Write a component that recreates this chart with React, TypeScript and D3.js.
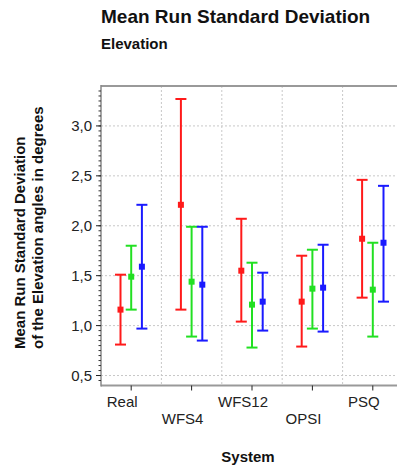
import React from "react";
import * as d3 from "d3";

const categories = ["Real", "WFS4", "WFS12", "OPSI", "PSQ"];
const seriesNames = ["A", "B", "C"];
const seriesColors = ["#ff1a1a", "#22e022", "#1a1aff"];
// [lower, mean, upper] per category per series
const redValues = [
  [0.81, 1.16, 1.51],
  [1.16, 2.21, 3.27],
  [1.04, 1.55, 2.07],
  [0.79, 1.24, 1.70],
  [1.28, 1.87, 2.46],
];
const greenValues = [
  [1.16, 1.49, 1.80],
  [0.89, 1.44, 1.99],
  [0.78, 1.21, 1.63],
  [0.97, 1.37, 1.76],
  [0.89, 1.36, 1.83],
];
const blueValues = [
  [0.97, 1.59, 2.21],
  [0.85, 1.41, 1.99],
  [0.95, 1.24, 1.53],
  [0.94, 1.38, 1.81],
  [1.24, 1.83, 2.40],
];
const yTicks = [0.5, 1.0, 1.5, 2.0, 2.5, 3.0];
const yDomain = [0.4, 3.4];

const W = 397;
const H = 466;
const left = 101;
const right = 403;
const top = 86;
const bottom = 385.5;

export default function App() {
  const x = d3.scaleBand<string>().domain(categories).range([left, right]).padding(0);
  const y = d3.scaleLinear().domain(yDomain).range([bottom, top]);
  const sub = d3.scalePoint<string>().domain(seriesNames).range([-10.7, 10.7]);
  const all = [redValues, greenValues, blueValues];
  const minor = d3.range(0.45, 3.4, 0.05).map((v) => Math.round(v * 100) / 100);
  const fmt = (v: number) => d3.format(".1f")(v).replace(".", ",");
  const font = "'Liberation Sans', Arial, sans-serif";
  const cx = (c: string) => (x(c) as number) + x.bandwidth() / 2;
  const capW = 5.5;

  return (
    <svg width={W} height={H} style={{ position: "absolute", left: 0, top: 0, background: "#fff" }} fontFamily={font}>
      <text x={101} y={23.3} fontSize={19} fontWeight="bold" fill="#111">Mean Run Standard Deviation</text>
      <text x={101} y={48.7} fontSize={15} fontWeight="bold" fill="#111">Elevation</text>

      {/* grid */}
      {yTicks.map((t) => (
        <line key={"g" + t} x1={left} x2={right} y1={y(t)} y2={y(t)} stroke="#c8c8c8" strokeWidth={1} strokeDasharray="2,2" />
      ))}
      {categories.slice(1).map((c) => (
        <line key={"v" + c} x1={x(c)} x2={x(c)} y1={top} y2={bottom} stroke="#c8c8c8" strokeWidth={1} strokeDasharray="2,2" />
      ))}

      {/* frame */}
      <line x1={left} x2={right} y1={top} y2={top} stroke="#999" strokeWidth={2} />
      <line x1={left} x2={right} y1={bottom} y2={bottom} stroke="#999" strokeWidth={2} />
      <line x1={left} x2={left} y1={top - 1} y2={bottom + 1} stroke="#888" strokeWidth={1.5} />

      {/* y ticks */}
      {minor.map((t) => (
        <line key={"m" + t} x1={left - 2.5} x2={left} y1={y(t)} y2={y(t)} stroke="#333" strokeWidth={1} />
      ))}
      {yTicks.map((t) => (
        <g key={"t" + t}>
          <line x1={left - 5} x2={left} y1={y(t)} y2={y(t)} stroke="#222" strokeWidth={1} />
          <text x={92} y={y(t)} dy="0.35em" textAnchor="end" fontSize={15} fill="#222">{fmt(t)}</text>
        </g>
      ))}

      {/* x ticks */}
      {categories.map((c, i) => (
        <g key={"x" + c}>
          <line x1={cx(c)} x2={cx(c)} y1={bottom} y2={bottom + 5} stroke="#222" strokeWidth={1} />
          <text x={cx(c) - 9} y={i % 2 === 0 ? 406.7 : 424} textAnchor="middle" fontSize={15} fill="#222">{c}</text>
        </g>
      ))}

      {/* error bars */}
      {all.map((vals, s) =>
        vals.map((v, i) => {
          const px = cx(categories[i]) + (sub(seriesNames[s]) as number);
          const col = seriesColors[s];
          return (
            <g key={s + "-" + i} stroke={col} strokeWidth={2}>
              <line x1={px} x2={px} y1={y(v[0])} y2={y(v[2])} />
              <line x1={px - capW} x2={px + capW} y1={y(v[0])} y2={y(v[0])} />
              <line x1={px - capW} x2={px + capW} y1={y(v[2])} y2={y(v[2])} />
              <rect x={px - 3} y={y(v[1]) - 3} width={6} height={6} fill={col} stroke="none" />
            </g>
          );
        })
      )}

      {/* axis titles */}
      <text x={248} y={461.7} textAnchor="middle" fontSize={15} fontWeight="bold" fill="#111">System</text>
      <text transform="translate(25,349) rotate(-90)" fontSize={15} fontWeight="bold" fill="#111">Mean Run Standard Deviation</text>
      <text transform="translate(43,349) rotate(-90)" fontSize={15} fontWeight="bold" fill="#111">of the Elevation angles in degrees</text>
    </svg>
  );
}
